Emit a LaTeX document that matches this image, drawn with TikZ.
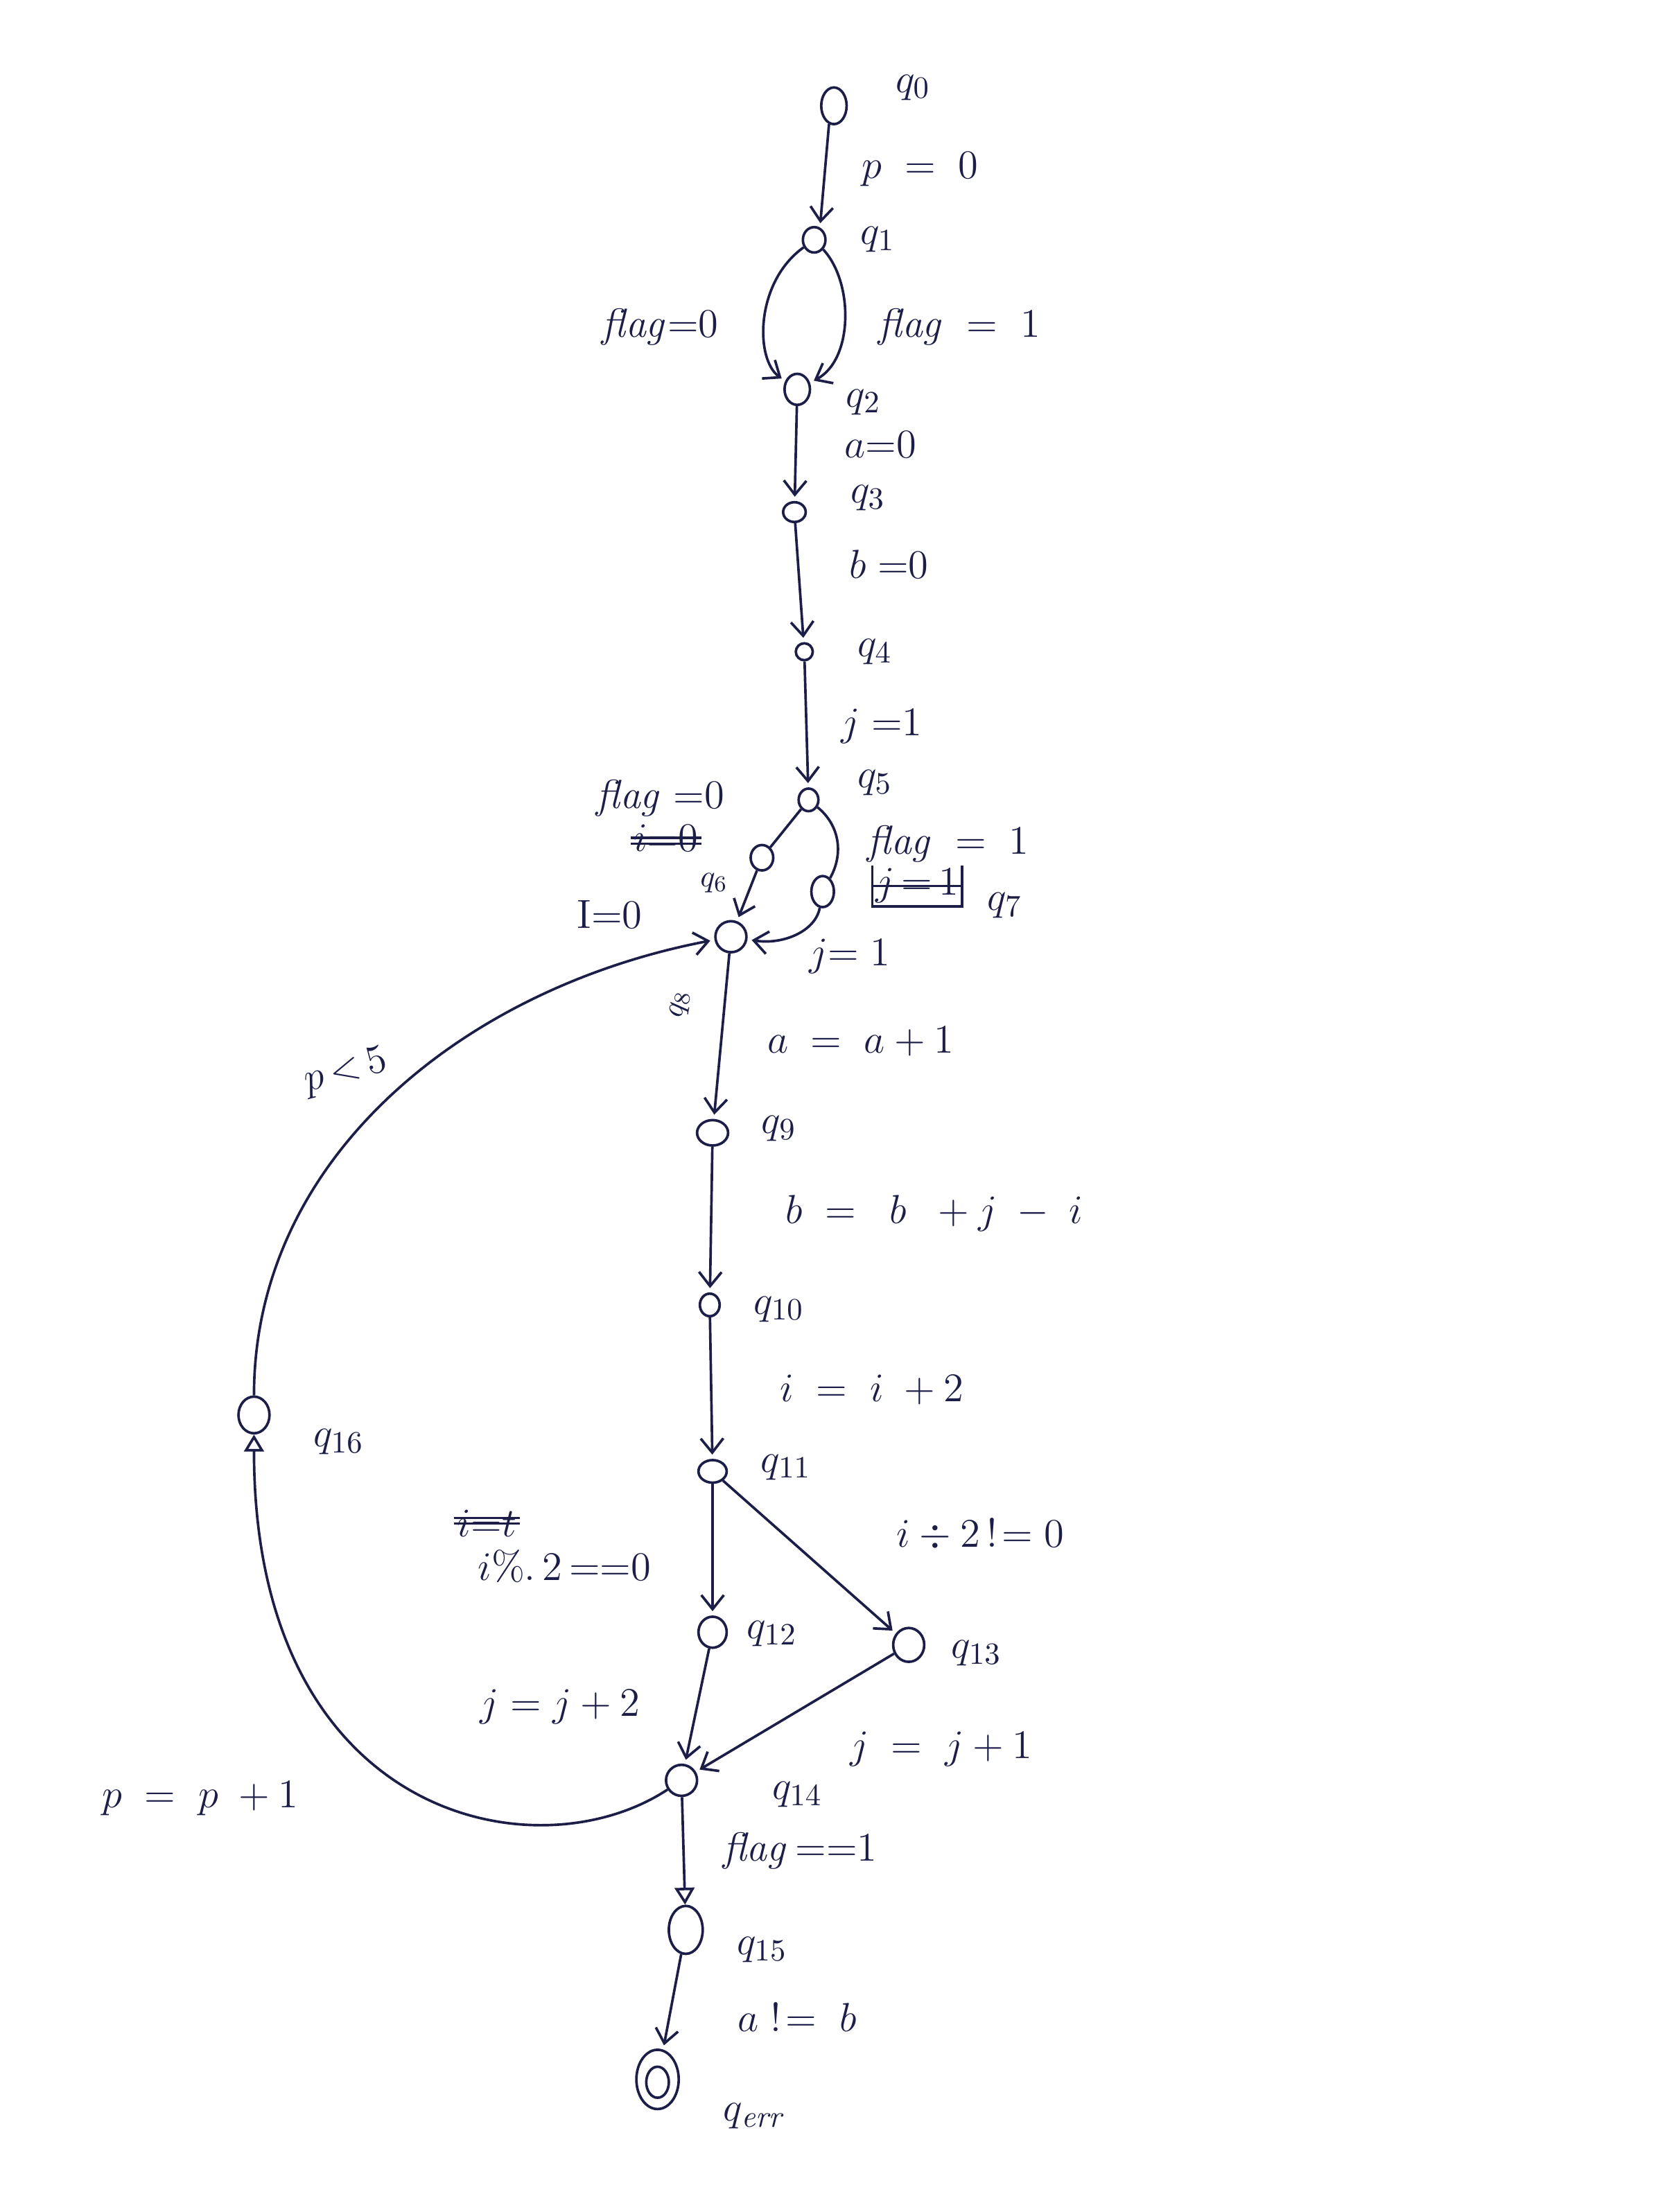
\documentclass[tikz,border=0pt]{standalone}
\usetikzlibrary{arrows.meta,shapes.geometric}
\definecolor{ink}{RGB}{28,30,72}
\begin{document}
\begin{tikzpicture}[x=0.5pt,y=-0.5pt,
  st/.style={draw=ink,line width=0.9pt,ellipse,inner sep=0pt},
  lbl/.style={text=ink,font=\fontsize{15}{17}\selectfont,inner sep=1pt},
  tr/.style={draw=ink,line width=0.9pt,shorten >=1.5pt,-{Straight Barb[length=5pt,width=8pt]}},
  trt/.style={draw=ink,line width=0.9pt,-{Triangle[open,length=6pt,width=7pt]}},
  strike/.style={draw=ink,line width=0.9pt},
]
\useasboundingbox[fill=white] (0,0) rectangle (1181,1568);

% states
\node[st,minimum width=9pt,minimum height=13pt] (q0) at (591,75) {};
\node[st,minimum width=8pt,minimum height=9pt] (q1) at (577,170) {};
\node[st,minimum width=9pt,minimum height=11pt] (q2) at (565,276) {};
\node[st,minimum width=8pt,minimum height=7pt] (q3) at (563,363) {};
\node[st,minimum width=6pt,minimum height=6pt] (q4) at (570,462) {};
\node[st,minimum width=7pt,minimum height=8pt] (q5) at (573,567) {};
\node[st,minimum width=8pt,minimum height=9pt] (q6) at (540,608) {};
\node[st,minimum width=8pt,minimum height=11pt] (q7) at (583,632) {};
\node[st,minimum width=11pt,minimum height=11pt] (q8) at (518,664) {};
\node[st,minimum width=11pt,minimum height=9pt] (q9) at (505,803) {};
\node[st,minimum width=7pt,minimum height=8pt] (q10) at (503,925) {};
\node[st,minimum width=10pt,minimum height=8pt] (q11) at (505,1043) {};
\node[st,minimum width=10pt,minimum height=11pt] (q12) at (505,1157) {};
\node[st,minimum width=11pt,minimum height=12pt] (q13) at (644,1166) {};
\node[st,minimum width=11pt,minimum height=11pt] (q14) at (483,1262) {};
\node[st,minimum width=12pt,minimum height=17pt] (q15) at (486,1368) {};
\node[st,minimum width=15pt,minimum height=21pt] (qerr) at (466,1474) {};
\node[st,minimum width=8pt,minimum height=11pt] (qerrin) at (466,1476) {};
\node[st,minimum width=11pt,minimum height=13pt] (q16) at (180,1003) {};

% state labels
\node[lbl] (l0) at (647,62) {$q_0$};
\node[lbl] (l1) at (622,170) {$q_1$};
\node[lbl] (l2) at (612,285) {$q_2$};
\node[lbl] (l3) at (615,353) {$q_3$};
\node[lbl] (l4) at (620,462) {$q_4$};
\node[lbl] (l5) at (620,555) {$q_5$};
\node[lbl,font=\fontsize{11}{13}\selectfont] (l6) at (506,626) {$q_6$};
\node[lbl] (l7) at (712,642) {$q_7$};
\node[lbl,rotate=80,font=\fontsize{11}{13}\selectfont] (l8) at (482,712) {$q_8$};
\node[lbl] (l9) at (552,800) {$q_9$};
\node[lbl] (l10) at (552,928) {$q_{10}$};
\node[lbl] (l11) at (557,1040) {$q_{11}$};
\node[lbl] (l12) at (547,1158) {$q_{12}$};
\node[lbl] (l13) at (692,1172) {$q_{13}$};
\node[lbl] (l14) at (565,1272) {$q_{14}$};
\node[lbl] (l15) at (540,1382) {$q_{15}$};
\node[lbl] (lerr) at (535,1500) {$q_{\mathit{err}}$};
\node[lbl] (l16) at (240,1022) {$q_{16}$};

% transitions
\draw[tr] (q0.255) -- (q1.65);
\draw[tr] (q1) .. controls (535,200) and (535,255) .. (q2);
\draw[tr] (q1) .. controls (605,200) and (605,255) .. (q2);
\draw[tr] (q2) -- (q3);
\draw[tr] (q3) -- (q4);
\draw[tr] (q4) -- (q5);
\draw[draw=ink,line width=0.9pt] (q5) -- (q6);
\draw[tr] (q6) -- (q8);
\draw[draw=ink,line width=0.9pt] (q5) .. controls (595,585) and (598,605) .. (q7);
\draw[tr] (q7) .. controls (578,660) and (555,670) .. (q8);
\draw[tr] (q8) -- (q9);
\draw[tr] (q9) -- (q10);
\draw[tr] (q10) -- (q11);
\draw[tr] (q11) -- (q12);
\draw[tr] (q11) -- (q13);
\draw[tr] (q12) -- (q14);
\draw[tr] (q13) -- (q14);
\draw[trt] (q14) -- (q15);
\draw[tr] (q15) -- (qerr);
\draw[trt] (q14) .. controls (380,1330) and (180,1290) .. (q16);
\draw[tr] (q16) .. controls (180,820) and (330,700) .. (q8);

% transition labels
\node[lbl] (t01) at (652,120) {$p\;=\;0$};
\node[lbl] (t12a) at (468,232) {$\mathit{flag}{=}0$};
\node[lbl] (t12b) at (680,232) {$\mathit{flag}\;=\;1$};
\node[lbl] (t23) at (624,315) {$a{=}0$};
\node[lbl] (t34) at (630,400) {$b\;{=}0$};
\node[lbl] (t45) at (625,515) {$j\;{=}1$};
\node[lbl] (t56) at (468,566) {$\mathit{flag}\;{=}0$};
\node[lbl] (s1) at (472,594) {$i{=}0$};
\draw[strike] (s1.west) -- (s1.east);
\draw[strike] ([yshift=-2pt]s1.west) -- ([yshift=-2pt]s1.east);
\node[lbl] (t68) at (432,648) {$\mathrm{I}{=}0$};
\node[lbl] (t57) at (672,598) {$\mathit{flag}\;=\;1$};
\node[lbl] (s2) at (650,628) {$j\,{=}\,1$};
\draw[strike] (s2.north west) -- (s2.south west) -- (s2.south east) -- (s2.north east);
\draw[strike] (s2.west) -- (s2.east);
\node[lbl] (t78) at (602,678) {$j{=}\;1$};
\node[lbl,rotate=15] (t168) at (245,760) {$p\,{<}\,5$};
\node[lbl] (t89) at (610,738) {$a\;=\;a+1$};
\node[lbl] (t910) at (662,860) {$b\;=\;\;b\;\;+j\;-\;i$};
\node[lbl] (t1011) at (618,985) {$i\;=\;i\;+2$};
\node[lbl] (t1113) at (695,1088) {$i\div 2\,!\!=0$};
\node[lbl] (s3) at (345,1080) {$i{=}t$};
\draw[strike] (s3.west) -- (s3.east);
\draw[strike] ([yshift=2pt]s3.west) -- ([yshift=2pt]s3.east);
\node[lbl] (t1112) at (400,1110) {$i\%.\,2\,{=}{=}0$};
\node[lbl] (t1214) at (397,1210) {$j=j+2$};
\node[lbl] (t1314) at (667,1240) {$j\;=\;j+1$};
\node[lbl] (t1416) at (142,1275) {$p\;=\;p\;+1$};
\node[lbl] (t1415) at (567,1312) {$\mathit{flag}\,{=}{=}1$};
\node[lbl] (t15e) at (565,1430) {$a\;!\!=\;b$};
\end{tikzpicture}
\end{document}
